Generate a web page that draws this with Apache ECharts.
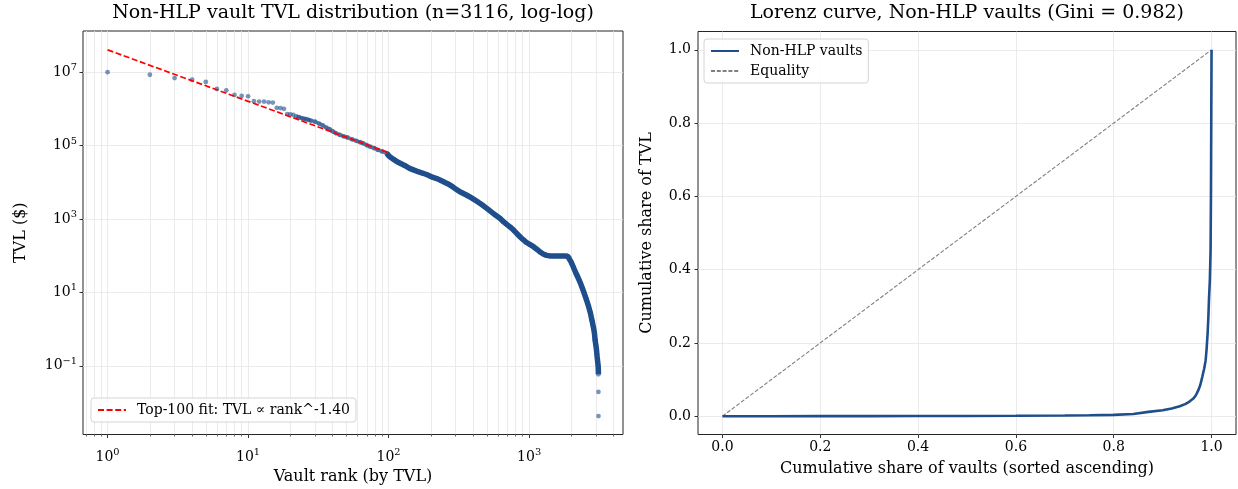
<!DOCTYPE html>
<html><head><meta charset="utf-8">
<script src="https://cdn.jsdelivr.net/npm/echarts@6/dist/echarts.min.js"></script>
<style>html,body{margin:0;padding:0;background:#fff}#c{width:1238px;height:489px}</style>
</head><body><div id="c"></div>
<script>
// ---- data ----
const ranks = [1,2,3,4,5,6,7,8,9,10,11,12,13,14,15,16,17,18,19,20,21,22,23,24,25,26,27,28,30,32,34,36,38,40,42,45,48,51,55,59,63,66,70,74,79,84,90,97,101,108,115,122,130,141,152,164,176,190,205,220,232,248,265,285,305,330,355,380,402,430,465,500,535,575,620,660,700,740,775,820,865,912,960,1010,1075,1140,1200,1260,1330,1400,1487,1600,1700,1800,1880,1930,1985,2060,2140,2220,2300,2380,2460,2560,2650,2730,2800,2870,2920,2950,2990,3020,3050,3075,3095,3105,3110,3113,3114,3116];
const tvl = [1.0e7,8.5e6,6.9e6,6.2e6,5.4e6,3.5e6,3.2e6,2.4e6,2.25e6,2.2e6,1.62e6,1.58e6,1.58e6,1.51e6,1.48e6,1.07e6,1.05e6,1.0e6,7.2e5,7.1e5,6.8e5,6.2e5,5.9e5,5.6e5,5.4e5,5.25e5,5.0e5,4.8e5,4.47e5,3.98e5,3.55e5,3.09e5,2.79e5,2.45e5,2.19e5,1.95e5,1.78e5,1.66e5,1.48e5,1.35e5,1.23e5,1.15e5,1.02e5,9.3e4,8.5e4,7.6e4,6.9e4,6.2e4,5.1e4,4.27e4,3.63e4,3.24e4,2.88e4,2.4e4,2.14e4,1.91e4,1.76e4,1.58e4,1.38e4,1.26e4,1.15e4,1.02e4,9020,7590,6310,5250,4570,3980,3470,2950,2400,1950,1585,1290,1047,832,692,589,501,398,324,269,229,204,176,148,126,111,102,98.9,97.7,97.7,97.7,97.7,96.6,89.1,69.2,50.1,35.5,26.3,19.5,13.8,9.77,6.31,4.17,2.75,1.76,1.12,0.76,0.50,0.355,0.263,0.175,0.132,0.105,0.089,0.076,0.059,0.0195,0.0043];
const fitRanks = [1, 100];
const fitTvl = [4.05e7, 6.4e4];
const lorenzX = [0,0.1,0.2,0.3,0.4,0.5,0.6,0.7,0.75,0.8,0.84,0.871,0.9,0.9185,0.935,0.946,0.955,0.9627,0.968,0.973,0.977,0.981,0.985,0.988,0.990,0.992,0.9935,0.9947,0.9965,0.998,0.9988,0.9994,1.0];
const lorenzY = [0,0,0.0001,0.0002,0.0004,0.0007,0.0011,0.0018,0.0025,0.0036,0.006,0.0118,0.016,0.021,0.027,0.033,0.040,0.048,0.057,0.071,0.085,0.107,0.13,0.153,0.185,0.227,0.27,0.317,0.37,0.45,0.6,0.8,1.0];
const equalityX = [0, 1];
const equalityY = [0, 1];
const rankTicks = [1, 10, 100, 1000];
const rankTickExp = ['0', '1', '2', '3'];
const rankMinorTicks = [0.7,0.8,0.9,2,3,4,5,6,7,8,9,20,30,40,50,60,70,80,90,200,300,400,500,600,700,800,900,2000,3000,4000];
const tvlTicks = [0.1, 10, 1e3, 1e5, 1e7];
const tvlTickExp = ['\u22121', '1', '3', '5', '7'];
const shareTicks = [0, 0.2, 0.4, 0.6, 0.8, 1.0];
const titles = ['Non-HLP vault TVL distribution (n=3116, log-log)', 'Lorenz curve, Non-HLP vaults (Gini = 0.982)'];
const fitName = 'Top-100 fit: TVL \u221d rank^-1.40';

// ---- chart ----
const F = 'DejaVu Serif';
const BLUE = '#1f4e8c';
const GRIDC = '#e6e6e6';
const chart = echarts.init(document.getElementById('c'), null, {renderer: 'canvas'});

const pts = ranks.map((r, i) => [r, tvl[i]]);
const dense1 = pts.filter(p => p[0] >= 22 && p[0] <= 101);
const dense2 = pts.filter(p => p[0] >= 97 && p[0] <= 3113);

function powLabel(vals, exps) {
  return v => {
    let k = vals.findIndex(t => Math.abs(t - v) / t < 1e-6);
    return k < 0 ? '' : '{b|10}{s|' + exps[k] + '}';
  };
}
const rich = {
  b: {fontFamily: F, fontSize: 14, color: '#000'},
  s: {fontFamily: F, fontSize: 9.8, color: '#000', padding: [0, 0, 9, 0]}
};
const tickBase = {show: true, inside: false, length: 3.5, lineStyle: {color: '#000', width: 0.8}};
const nameStyle = {fontFamily: F, fontSize: 16, color: '#000'};
const legendText = {fontFamily: F, fontSize: 14, color: '#000', padding: [0, 0, 0, 6]};
const titleText = {fontFamily: F, fontSize: 19, fontWeight: 'normal', color: '#000'};

const option = {
  backgroundColor: '#fff',
  animation: false,
  title: [
    {text: titles[0], left: 353, top: 4, textAlign: 'center', padding: 0, textStyle: titleText},
    {text: titles[1], left: 967, top: 4, textAlign: 'center', padding: 0, textStyle: titleText}
  ],
  grid: [
    {left: 83, top: 31, width: 540, height: 403.5, show: true, borderColor: '#262626', borderWidth: 1, backgroundColor: 'transparent', containLabel: false, outerBoundsMode: 'none'},
    {left: 698, top: 31.5, width: 538, height: 403, show: true, borderColor: '#262626', borderWidth: 1, backgroundColor: 'transparent', containLabel: false, outerBoundsMode: 'none'}
  ],
  legend: [
    {data: [fitName], left: 91, top: 398, orient: 'horizontal', itemWidth: 28, itemHeight: 10,
     itemStyle: {opacity: 0},
     backgroundColor: 'rgba(255,255,255,0.85)', borderColor: '#d4d4d4', borderWidth: 1, borderRadius: 3,
     padding: [5, 6, 5, 6], textStyle: legendText},
    {data: ['Non-HLP vaults', 'Equality'], left: 704, top: 39, orient: 'vertical', itemWidth: 28, itemHeight: 10, itemGap: 6,
     itemStyle: {opacity: 0},
     backgroundColor: 'rgba(255,255,255,0.85)', borderColor: '#d4d4d4', borderWidth: 1, borderRadius: 3,
     padding: [5, 6, 5, 6], textStyle: legendText}
  ],
  xAxis: [
    {type: 'log', gridIndex: 0, position: 'bottom', min: 0.6687, max: 4659,
     name: 'Vault rank (by TVL)', nameLocation: 'middle', nameGap: 31, nameTextStyle: nameStyle,
     axisLine: {show: false, onZero: false},
     axisTick: Object.assign({customValues: rankTicks}, tickBase),
     axisLabel: {customValues: rankTicks, margin: 13, formatter: powLabel(rankTicks, rankTickExp), rich: rich},
     splitLine: {show: true, lineStyle: {color: GRIDC, width: 0.8}}},
    {type: 'log', gridIndex: 0, position: 'bottom', min: 0.6687, max: 4659,
     axisLine: {show: false, onZero: false},
     axisTick: {show: true, inside: false, length: 2, customValues: rankMinorTicks, lineStyle: {color: '#000', width: 0.6}},
     axisLabel: {show: false},
     splitLine: {show: true, lineStyle: {color: GRIDC, width: 0.8}}},
    {type: 'value', gridIndex: 1, position: 'bottom', min: -0.05, max: 1.05,
     name: 'Cumulative share of vaults (sorted ascending)', nameLocation: 'middle', nameGap: 26, nameTextStyle: nameStyle,
     axisLine: {show: false, onZero: false},
     axisTick: Object.assign({customValues: shareTicks}, tickBase),
     axisLabel: {customValues: shareTicks, margin: 6, fontFamily: F, fontSize: 14, color: '#000', formatter: v => v.toFixed(1)},
     splitLine: {show: true, lineStyle: {color: GRIDC, width: 0.8}}}
  ],
  yAxis: [
    {type: 'log', gridIndex: 0, position: 'left', min: 0.00135, max: 1.32e8,
     name: 'TVL ($)', nameLocation: 'middle', nameGap: 54, nameRotate: 90, nameTextStyle: nameStyle,
     axisLine: {show: false, onZero: false},
     axisTick: Object.assign({customValues: tvlTicks}, tickBase),
     axisLabel: {customValues: tvlTicks, margin: 6, formatter: powLabel(tvlTicks, tvlTickExp), rich: rich},
     splitLine: {show: true, lineStyle: {color: GRIDC, width: 0.8}}},
    {type: 'value', gridIndex: 1, position: 'left', min: -0.05, max: 1.05,
     name: 'Cumulative share of TVL', nameLocation: 'middle', nameGap: 43, nameRotate: 90, nameTextStyle: nameStyle,
     axisLine: {show: false, onZero: false},
     axisTick: Object.assign({customValues: shareTicks}, tickBase),
     axisLabel: {customValues: shareTicks, margin: 7, fontFamily: F, fontSize: 14, color: '#000', formatter: v => v.toFixed(1)},
     splitLine: {show: true, lineStyle: {color: GRIDC, width: 0.8}}}
  ],
  series: [
    {type: 'line', name: 'band1', xAxisIndex: 0, yAxisIndex: 0, data: dense1, symbol: 'none',
     lineStyle: {color: BLUE, width: 4, opacity: 0.55}, z: 2, silent: true},
    {type: 'line', name: 'band2', xAxisIndex: 0, yAxisIndex: 0, data: dense2, symbol: 'none',
     lineStyle: {color: BLUE, width: 5.5, opacity: 1}, z: 2, silent: true},
    {type: 'scatter', name: 'TVL', xAxisIndex: 0, yAxisIndex: 0, data: pts, symbolSize: 4.8,
     itemStyle: {color: BLUE, opacity: 0.6}, z: 3},
    {type: 'line', name: fitName, xAxisIndex: 0, yAxisIndex: 0, data: fitRanks.map((r, i) => [r, fitTvl[i]]),
     symbol: 'none', lineStyle: {color: '#ff0000', width: 1.7, type: [6, 2.6]}, itemStyle: {color: '#ff0000'}, z: 5},
    {type: 'line', name: 'Non-HLP vaults', xAxisIndex: 2, yAxisIndex: 1, data: lorenzX.map((x, i) => [x, lorenzY[i]]),
     symbol: 'none', lineStyle: {color: BLUE, width: 2.6}, itemStyle: {color: BLUE}, z: 4},
    {type: 'line', name: 'Equality', xAxisIndex: 2, yAxisIndex: 1, data: equalityX.map((x, i) => [x, equalityY[i]]),
     symbol: 'none', lineStyle: {color: '#808080', width: 1.1, type: [4, 1.8]}, itemStyle: {color: '#808080'}, z: 3}
  ]
};
chart.setOption(option);
</script></body></html>
